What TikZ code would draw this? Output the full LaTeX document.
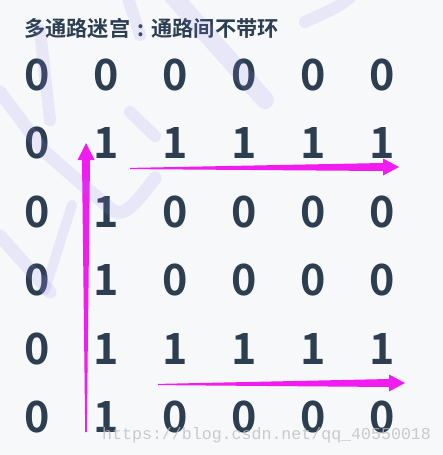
\documentclass[tikz,border=0pt]{standalone}
\usepackage{fontspec}
\usetikzlibrary{calc}
\newfontfamily\cjkbold{Noto Sans CJK SC Bold}
\newfontfamily\wmfont{Liberation Mono}
\definecolor{bgc}{RGB}{247,248,250}
\definecolor{digc}{RGB}{44,62,80}
\definecolor{magc}{RGB}{240,28,240}
\definecolor{wmstroke}{RGB}{150,135,235}
\definecolor{wmtext}{RGB}{190,190,190}
\tikzset{
  digit/.style={font=\cjkbold\fontsize{43}{43}\selectfont, text=digc, inner sep=0pt, anchor=center},
  title/.style={font=\cjkbold\fontsize{21.2}{22}\selectfont, text=digc, inner sep=0pt, anchor=west},
  arrowfill/.style={fill=magc, draw=none},
  wm/.style={draw=wmstroke, opacity=0.15, line cap=round, line join=round},
}
\begin{document}
\begin{tikzpicture}[x=1pt,y=-1pt]
\fill[bgc] (0,0) rectangle (443,455);
\useasboundingbox (0,0) rectangle (443,455);

\node[title] (title) at (24,28) {多通路迷宫\makebox[1em][c]{:}通路间不带环};

% grid of digits
\foreach \r/\vals in {1/{0,0,0,0,0,0},2/{0,1,1,1,1,1},3/{0,1,0,0,0,0},4/{0,1,0,0,0,0},5/{0,1,1,1,1,1},6/{0,1,0,0,0,0}}{
  \foreach \v [count=\c] in \vals {
    \node[digit] (d\r\c) at ({37+69*(\c-1)},{75+68.4*(\r-1)}) {\v};
  }
}

% arrows (tapered, filled)
\coordinate (vtail) at (86,432);
\coordinate (vtip) at (86,143);
\fill[arrowfill] ($(vtail)+(-0.8,0)$) -- ($(vtip)+(-4,17)$) -- ($(vtip)+(-8.5,17)$) -- (vtip)
  -- ($(vtip)+(8.5,17)$) -- ($(vtip)+(4,17)$) -- ($(vtail)+(0.8,0)$) -- cycle;

\coordinate (h1tail) at (130,168.5);
\coordinate (h1tip) at (399,167);
\fill[arrowfill] ($(h1tail)+(0,-0.6)$) -- ($(h1tip)+(-16,-4)$) -- ($(h1tip)+(-16,-8.5)$) -- (h1tip)
  -- ($(h1tip)+(-16,8.5)$) -- ($(h1tip)+(-16,4)$) -- ($(h1tail)+(0,0.6)$) -- cycle;

\coordinate (h2tail) at (158,384.5);
\coordinate (h2tip) at (405,383);
\fill[arrowfill] ($(h2tail)+(0,-0.6)$) -- ($(h2tip)+(-16,-4)$) -- ($(h2tip)+(-16,-8.5)$) -- (h2tip)
  -- ($(h2tip)+(-16,8.5)$) -- ($(h2tip)+(-16,4)$) -- ($(h2tail)+(0,0.6)$) -- cycle;

% faint background watermark strokes
\draw[wm, line width=13] (0,92) -- (45,152) -- (112,210) .. controls (122,216) and (130,212) .. (155,178);
\draw[wm, line width=12] (40,30) -- (50,120);
\draw[wm, line width=12] (130,112) -- (155,136);
\draw[wm, line width=13] (0,236) -- (50,292);
\draw[wm, line width=10] (72,205) -- (45,290);
\draw[wm, line width=18] (172,-5) -- (265,100);
\draw[wm, line width=12] (127,-5) -- (140,35);
\draw[wm, line width=12] (305,22) .. controls (325,12) and (340,8) .. (352,-5);

% watermark text
\node[font=\wmfont\fontsize{16.6}{17}\selectfont, text=wmtext, inner sep=0pt, anchor=west, opacity=0.8] (wmark) at (102,435) {https://blog.csdn.net/qq\_40550018};
\end{tikzpicture}
\end{document}
